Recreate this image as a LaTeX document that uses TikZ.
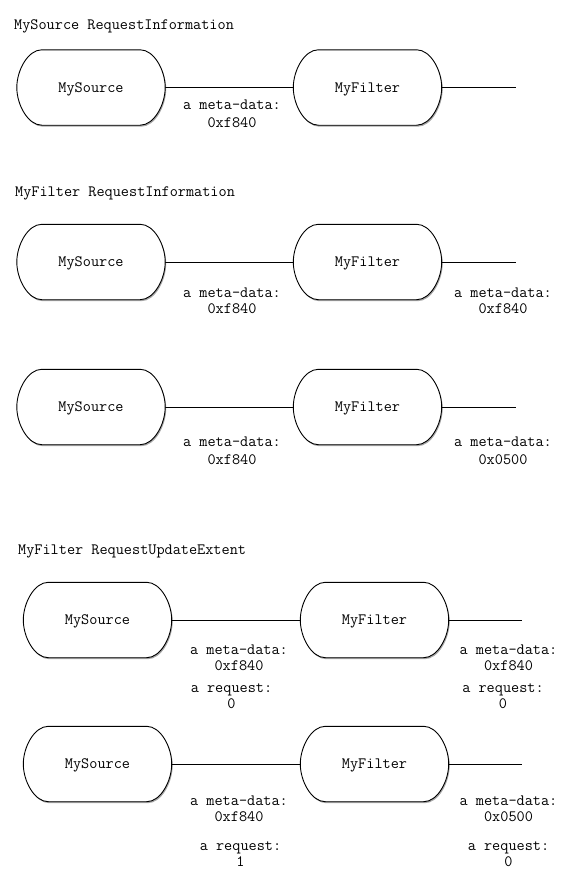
\documentclass[tikz,border=0pt]{standalone}
\usetikzlibrary{calc,shadows}
\tikzset{
  monofont/.style={font=\ttfamily\fontsize{15.8}{18}\selectfont},
  box/.style={minimum width=148pt, minimum height=75pt, inner sep=0pt},
  boxtext/.style={monofont, inner sep=0pt, text height=10pt, text depth=2.5pt, yshift=-1pt},
  pill/.style={draw=black, line width=0.9pt, fill=white, drop shadow={shadow xshift=1pt, shadow yshift=-1.5pt, opacity=0.35, fill=black}},
  conn/.style={draw=black, line width=0.9pt},
  lbl/.style={monofont, inner sep=0pt, anchor=base},
  ttl/.style={monofont, inner sep=0pt, anchor=base west},
}
\newcommand\pillpath[1]{%
  \path[pill] ($(#1.north west)+(25,0)$) -- ($(#1.north east)+(-25,0)$)
    .. controls ($(#1.north east)+(-11,0)$) and ($(#1.east)+(0,-17)$) .. (#1.east)
    .. controls ($(#1.east)+(0,17)$) and ($(#1.south east)+(-11,0)$) .. ($(#1.south east)+(-25,0)$)
    -- ($(#1.south west)+(25,0)$)
    .. controls ($(#1.south west)+(11,0)$) and ($(#1.west)+(0,17)$) .. (#1.west)
    .. controls ($(#1.west)+(0,-17)$) and ($(#1.north west)+(11,0)$) .. cycle;
}
\begin{document}
\begin{tikzpicture}[x=1pt, y=-1pt]
\useasboundingbox (0,0) rectangle (575,884);
% titles
\node[ttl] (t1) at (14,29) {MySource RequestInformation};
\node[ttl] (t2) at (15,196) {MyFilter RequestInformation};
\node[ttl] (t3) at (18,554) {MyFilter RequestUpdateExtent};
% rows
\foreach \r/\y/\sx/\fx/\ex in {1/87.5/91/367.5/516, 2/262/91/367.5/516, 3/407/91/367.5/516, 4/620/97.5/374.5/522, 5/764/97.5/374.5/522}{
  \node[box] (s\r) at (\sx,\y) {};
  \node[box] (f\r) at (\fx,\y) {};
  \coordinate (e\r) at (\ex,\y);
  \draw[conn] (s\r.east) -- (f\r.west);
  \draw[conn] (f\r.east) -- (e\r);
}
\foreach \r in {1,...,5}{
  \pillpath{s\r}
  \node[boxtext] (st\r) at (s\r) {MySource};
  \pillpath{f\r}
  \node[boxtext] (ft\r) at (f\r) {MyFilter};
}
% labels row 1
\node[lbl] (l1a) at (232,109) {a meta-data:};
\node[lbl] (l1b) at (232,127) {0xf840};
% row 2
\node[lbl] (l2a) at (232,297) {a meta-data:};
\node[lbl] (l2b) at (232,313) {0xf840};
\node[lbl] (r2a) at (503,297) {a meta-data:};
\node[lbl] (r2b) at (503,313) {0xf840};
% row 3
\node[lbl] (l3a) at (232,446) {a meta-data:};
\node[lbl] (l3b) at (232,464) {0xf840};
\node[lbl] (r3a) at (503,446) {a meta-data:};
\node[lbl] (r3b) at (503,464) {0x0500};
% row 4
\node[lbl] (l4a) at (239,654) {a meta-data:};
\node[lbl] (l4b) at (239,670) {0xf840};
\node[lbl] (l4c) at (231.5,692) {a request:};
\node[lbl] (l4d) at (231.5,708) {0};
\node[lbl] (r4a) at (508.5,654) {a meta-data:};
\node[lbl] (r4b) at (508.5,670) {0xf840};
\node[lbl] (r4c) at (503,692) {a request:};
\node[lbl] (r4d) at (503,708) {0};
% row 5
\node[lbl] (l5a) at (239,805) {a meta-data:};
\node[lbl] (l5b) at (239,821) {0xf840};
\node[lbl] (l5c) at (240.5,850) {a request:};
\node[lbl] (l5d) at (240.5,866) {1};
\node[lbl] (r5a) at (508.5,805) {a meta-data:};
\node[lbl] (r5b) at (508.5,821) {0x0500};
\node[lbl] (r5c) at (508.5,850) {a request:};
\node[lbl] (r5d) at (508.5,866) {0};
\end{tikzpicture}
\end{document}
